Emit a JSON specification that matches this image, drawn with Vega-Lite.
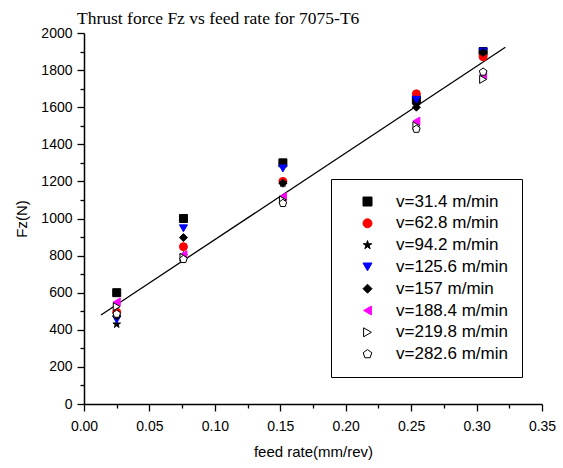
{
  "$schema": "https://vega.github.io/schema/vega-lite/v6.json",
  "width": 458,
  "height": 371,
  "autosize": "none",
  "padding": {"left": 84, "top": 33, "right": 21, "bottom": 64},
  "background": "white",
  "title": {
    "text": "Thrust force Fz vs feed rate for 7075-T6",
    "font": "Liberation Serif",
    "fontSize": 17.5,
    "fontWeight": "normal",
    "color": "black",
    "anchor": "start",
    "frame": "group",
    "dx": -7,
    "offset": -1
  },
  "config": {
    "view": {"stroke": null},
    "axis": {
      "domainColor": "black",
      "domainWidth": 1.5,
      "tickColor": "black",
      "tickWidth": 1.3,
      "tickSize": 7,
      "labelColor": "black",
      "labelFont": "Liberation Sans",
      "labelFontSize": 14,
      "labelOverlap": false,
      "labelFlush": false,
      "titleFont": "Liberation Sans",
      "titleFontSize": 15,
      "titleFontWeight": "normal",
      "titleColor": "black",
      "grid": false
    }
  },
  "datasets": {
    "pts": [
      {"f": 0.025, "Fz": 600, "v": "v=31.4 m/min"},
      {"f": 0.076, "Fz": 1000, "v": "v=31.4 m/min"},
      {"f": 0.152, "Fz": 1300, "v": "v=31.4 m/min"},
      {"f": 0.254, "Fz": 1640, "v": "v=31.4 m/min"},
      {"f": 0.305, "Fz": 1900, "v": "v=31.4 m/min"},
      {"f": 0.025, "Fz": 495, "v": "v=62.8 m/min"},
      {"f": 0.076, "Fz": 848, "v": "v=62.8 m/min"},
      {"f": 0.152, "Fz": 1200, "v": "v=62.8 m/min"},
      {"f": 0.254, "Fz": 1672, "v": "v=62.8 m/min"},
      {"f": 0.305, "Fz": 1872, "v": "v=62.8 m/min"},
      {"f": 0.025, "Fz": 430, "v": "v=94.2 m/min"},
      {"f": 0.076, "Fz": 800, "v": "v=94.2 m/min"},
      {"f": 0.152, "Fz": 1190, "v": "v=94.2 m/min"},
      {"f": 0.254, "Fz": 1610, "v": "v=94.2 m/min"},
      {"f": 0.305, "Fz": 1900, "v": "v=94.2 m/min"},
      {"f": 0.025, "Fz": 455, "v": "v=125.6 m/min"},
      {"f": 0.076, "Fz": 947, "v": "v=125.6 m/min"},
      {"f": 0.152, "Fz": 1270, "v": "v=125.6 m/min"},
      {"f": 0.254, "Fz": 1640, "v": "v=125.6 m/min"},
      {"f": 0.305, "Fz": 1900, "v": "v=125.6 m/min"},
      {"f": 0.025, "Fz": 475, "v": "v=157 m/min"},
      {"f": 0.076, "Fz": 897, "v": "v=157 m/min"},
      {"f": 0.152, "Fz": 1190, "v": "v=157 m/min"},
      {"f": 0.254, "Fz": 1600, "v": "v=157 m/min"},
      {"f": 0.305, "Fz": 1895, "v": "v=157 m/min"},
      {"f": 0.025, "Fz": 550, "v": "v=188.4 m/min"},
      {"f": 0.076, "Fz": 805, "v": "v=188.4 m/min"},
      {"f": 0.152, "Fz": 1118, "v": "v=188.4 m/min"},
      {"f": 0.254, "Fz": 1525, "v": "v=188.4 m/min"},
      {"f": 0.305, "Fz": 1775, "v": "v=188.4 m/min"},
      {"f": 0.025, "Fz": 525, "v": "v=219.8 m/min"},
      {"f": 0.076, "Fz": 790, "v": "v=219.8 m/min"},
      {"f": 0.152, "Fz": 1100, "v": "v=219.8 m/min"},
      {"f": 0.254, "Fz": 1500, "v": "v=219.8 m/min"},
      {"f": 0.305, "Fz": 1750, "v": "v=219.8 m/min"},
      {"f": 0.025, "Fz": 485, "v": "v=282.6 m/min"},
      {"f": 0.076, "Fz": 780, "v": "v=282.6 m/min"},
      {"f": 0.152, "Fz": 1082, "v": "v=282.6 m/min"},
      {"f": 0.254, "Fz": 1482, "v": "v=282.6 m/min"},
      {"f": 0.305, "Fz": 1790, "v": "v=282.6 m/min"}
    ],
    "fit": [
      {"f": 0.013, "Fz": 480},
      {"f": 0.322, "Fz": 1923}
    ]
  },
  "encoding": {
    "x": {
      "field": "f", "type": "quantitative",
      "scale": {"domain": [0, 0.35], "nice": false, "zero": false},
      "axis": {
        "title": "feed rate(mm/rev)",
        "values": [0, 0.025, 0.05, 0.075, 0.1, 0.125, 0.15, 0.175, 0.2, 0.225, 0.25, 0.275, 0.3, 0.325, 0.35],
        "format": ".2f",
        "labelExpr": "round(datum.value*40) % 2 == 1 ? '' : datum.label",
        "tickDash": {"condition": {"test": "round(datum.value*40) % 2 == 1", "value": [4, 20]}, "value": []},
        "labelOverlap": false,
        "labelFlush": false,
        "labelPadding": 8,
        "titlePadding": 11
      }
    },
    "y": {
      "field": "Fz", "type": "quantitative",
      "scale": {"domain": [0, 2000], "nice": false},
      "axis": {
        "title": "Fz(N)",
        "values": [0, 100, 200, 300, 400, 500, 600, 700, 800, 900, 1000, 1100, 1200, 1300, 1400, 1500, 1600, 1700, 1800, 1900, 2000],
        "format": "d",
        "labelExpr": "round(datum.value/100) % 2 == 1 ? '' : datum.label",
        "tickDash": {"condition": {"test": "round(datum.value/100) % 2 == 1", "value": [4, 20]}, "value": []},
        "labelOverlap": false,
        "labelFlush": false,
        "labelPadding": 5,
        "titlePadding": 11
      }
    }
  },
  "layer": [
    {
      "data": {"name": "fit"},
      "mark": {"type": "line", "color": "black", "strokeWidth": 1.3}
    },
    {
      "data": {"name": "pts"},
      "mark": {"type": "point", "filled": true, "strokeWidth": 1, "opacity": 1, "size": 64},
      "encoding": {
        "shape": {
          "field": "v", "type": "nominal",
          "scale": {
            "domain": ["v=31.4 m/min", "v=62.8 m/min", "v=94.2 m/min", "v=125.6 m/min", "v=157 m/min", "v=188.4 m/min", "v=219.8 m/min", "v=282.6 m/min"],
            "range": ["square", "circle", "M0,-1L0.224,-0.309L0.951,-0.309L0.363,0.118L0.588,0.809L0,0.38L-0.588,0.809L-0.363,0.118L-0.951,-0.309L-0.224,-0.309Z", "triangle-down", "diamond", "triangle-left", "triangle-right", "M0,-1L0.951,-0.309L0.588,0.809L-0.588,0.809L-0.951,-0.309Z"]
          },
          "legend": {
            "title": null,
            "orient": "none",
            "legendX": 247,
            "legendY": 146,
            "padding": 14,
            "strokeColor": "black",
            "fillColor": "white",
            "symbolSize": 81,
            "symbolOffset": 14,
            "labelOffset": 20,
            "labelFont": "Liberation Sans",
            "labelFontSize": 17,
            "labelColor": "black",
            "rowPadding": 3.8,
            "symbolStrokeWidth": 1
          }
        },
        "fill": {
          "field": "v", "type": "nominal",
          "scale": {
            "domain": ["v=31.4 m/min", "v=62.8 m/min", "v=94.2 m/min", "v=125.6 m/min", "v=157 m/min", "v=188.4 m/min", "v=219.8 m/min", "v=282.6 m/min"],
            "range": ["black", "#ff0000", "black", "#0000ff", "black", "#ff00ff", "white", "white"]
          },
          "legend": {"title": null}
        },
        "stroke": {
          "field": "v", "type": "nominal",
          "scale": {
            "domain": ["v=31.4 m/min", "v=62.8 m/min", "v=94.2 m/min", "v=125.6 m/min", "v=157 m/min", "v=188.4 m/min", "v=219.8 m/min", "v=282.6 m/min"],
            "range": ["black", "#ff0000", "black", "#0000ff", "black", "#ff00ff", "black", "black"]
          },
          "legend": {"title": null}
        }
      }
    }
  ]
}
